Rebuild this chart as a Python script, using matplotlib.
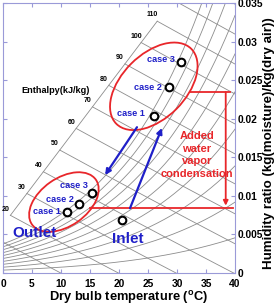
import numpy as np
import matplotlib
matplotlib.use("Agg")
import matplotlib.pyplot as plt
from matplotlib.patches import Ellipse
from matplotlib.transforms import ScaledTranslation

plt.rcParams['font.family'] = ['Liberation Sans', 'DejaVu Sans']
plt.rcParams['font.weight'] = 'bold'
plt.rcParams['mathtext.fontset'] = 'custom'
plt.rcParams['mathtext.bf'] = 'Liberation Sans:bold'
plt.rcParams['mathtext.rm'] = 'Liberation Sans:bold'

# measured states (dry bulb degC, humidity ratio kg/kg)
inlet_T, inlet_W = 20.5, 0.0069
inlet_case_T = [26.0, 28.6, 30.7]
inlet_case_W = [0.0204, 0.0241, 0.0274]
outlet_case_T = [11.0, 13.1, 15.3]
outlet_case_W = [0.0079, 0.0089, 0.0104]
case_labels = ["case 1", "case 2", "case 3"]

rh_levels = [0.1, 0.2, 0.3, 0.4, 0.5, 0.6, 0.7, 0.8, 0.9, 1.0]
h_levels = [10, 20, 30, 40, 50, 60, 70, 80, 90, 100, 110, 120, 130]
h_labels = [20, 30, 40, 50, 60, 70, 80, 90, 100, 110]

# condensation band (humidity ratios of the red lines)
W_high, W_low = 0.02346, 0.00843

xticks = [0, 5, 10, 15, 20, 25, 30, 35, 40]
yticks = [0, 0.005, 0.01, 0.015, 0.02, 0.025, 0.03, 0.035]
ytick_labels = ["0", "0.005", "0.01", "0.015", "0.02", "0.025", "0.03", "0.035"]

P = 101.325
BLUE = "#1f1fc8"
RED = "#e8262a"
GRID = "#8c8c8c"
FRAME = "#9a9ad8"


def psat(T):
    return 0.61094 * np.exp(17.625 * T / (T + 243.04))


def w_rh(T, rh):
    pv = rh * psat(T)
    return 0.622 * pv / (P - pv)


def w_h(T, h):
    return (h - 1.006 * T) / (2501 + 1.86 * T)


# straight enthalpy scale line the labels hang on
scale_T0, scale_W0 = 1.6, 0.0078
scale_T1, scale_W1 = 26.55, 0.0326


def scale_w(T):
    return scale_W0 + (T - scale_T0) * (scale_W1 - scale_W0) / (scale_T1 - scale_T0)


def h_start(h):
    T = np.linspace(-5, 45, 5001)
    d = w_h(T, h) - scale_w(T)
    i = np.argmin(np.abs(d))
    return max(T[i], 0.0)


fig = plt.figure(figsize=(2.78, 3.07), dpi=100)
ax = fig.add_axes([3/278, 34/307, 232/278, 270/307])

T = np.linspace(0, 40, 400)
for rh in rh_levels:
    ax.plot(T, w_rh(T, rh), color=GRID, lw=0.6, zorder=1)

for h in h_levels:
    t0 = h_start(h)
    Th = np.linspace(t0, 40, 200)
    ax.plot(Th, w_h(Th, h), color=GRID, lw=0.6, zorder=1)
    if h in h_labels:
        ax.annotate(str(h), (t0, w_h(t0, h)), xytext=(-3.5, 4.5), textcoords='offset points',
                    ha='center', va='center', fontsize=5, fontweight='bold')

Ts = np.linspace(h_start(20), h_start(110), 50)
ax.plot(Ts, scale_w(Ts), color=GRID, lw=0.6, zorder=1)

ax.text(9.0, 0.0237, "Enthalpy(kJ/kg)", fontsize=6.6, ha='center', va='center')

# ellipses drawn in pixel units around a data centre
def ring(cx, cy, a, b, ang):
    tr = fig.dpi_scale_trans + ScaledTranslation(cx, cy, ax.transData)
    ax.add_patch(Ellipse((0, 0), 2*a/100, 2*b/100, angle=ang, transform=tr,
                         fill=False, ec=RED, lw=1.3, zorder=3))

ring(10.5, 0.0092, 39, 24, 35)
ring(26.0, 0.0242, 53, 32, 45)

# condensation bracket
ax.plot([32.2, 39.1], [W_high, W_high], color=RED, lw=1.3, zorder=3)
ax.plot([15.0, 39.6], [W_low, W_low], color=RED, lw=1.3, zorder=3)
ax.annotate("", xy=(38.4, W_low + 0.0003), xytext=(38.4, W_high),
            arrowprops=dict(arrowstyle='-|>', color=RED, lw=1.3, mutation_scale=7,
                            shrinkA=0, shrinkB=0), zorder=3)
ax.text(33.4, 0.0153, "Added\nwater\nvapor\ncondensation", color=RED, fontsize=8,
        ha='center', va='center', linespacing=1.3)

# flow arrows
arrow = dict(arrowstyle='-|>', color=BLUE, lw=1.6, mutation_scale=8, shrinkA=0, shrinkB=0)
ax.annotate("", xy=(17.6, 0.0127), xytext=(23.1, 0.0189), arrowprops=arrow, zorder=4)
ax.annotate("", xy=(27.4, 0.0188), xytext=(21.9, 0.0084), arrowprops=arrow, zorder=4)

mk = dict(ls='none', marker='o', ms=5.5, mfc='white', mec='black', mew=1.5, zorder=5)
ax.plot([inlet_T], [inlet_W], **mk)
ax.plot(inlet_case_T, inlet_case_W, **mk)
ax.plot(outlet_case_T, outlet_case_W, **mk)

out_off = [(-4.3, 0.7), (-3.6, 3.6), (-2.9, 5.0)]
in_off = [(-6.5, 1.4), (-5.0, 0.0), (-4.3, 1.4)]
for lab, t, w, off in zip(case_labels, outlet_case_T, outlet_case_W, out_off):
    ax.annotate(lab, (t, w), xytext=off, textcoords='offset points', ha='right', va='center',
                fontsize=6.6, color=BLUE)
for lab, t, w, off in zip(case_labels, inlet_case_T, inlet_case_W, in_off):
    ax.annotate(lab, (t, w), xytext=off, textcoords='offset points', ha='right', va='center',
                fontsize=6.6, color=BLUE)

ax.text(5.5, 0.0052, "Outlet", color=BLUE, fontsize=11, ha='center', va='center')
ax.text(21.5, 0.0044, "Inlet", color=BLUE, fontsize=11, ha='center', va='center')

ax.set_xlim(0, 40)
ax.set_ylim(0, 0.035)
ax.set_xticks(xticks)
ax.set_yticks(yticks)
ax.set_yticklabels(ytick_labels)
ax.yaxis.tick_right()
ax.tick_params(direction='in', length=3, color=FRAME, labelsize=7.4, pad=2,
               top=True, bottom=True, left=True, right=True, labelleft=False, labelright=True)
ax.tick_params(axis='x', pad=4)
for s in ax.spines.values():
    s.set_color(FRAME)

# axis titles placed by hand, centred on their boxes
fig.text(128.5/278, 1 - 297/307, r"Dry bulb temperature ($^{\mathbf{o}}$C)", fontsize=9.3,
         ha='center', va='center')
fig.text(269/278, 1 - 143/307, "Humidity ratio (kg(moisture)/kg(dry air))", fontsize=9.6,
         ha='center', va='center', rotation=90)

fig.savefig("out.png", dpi=100)
